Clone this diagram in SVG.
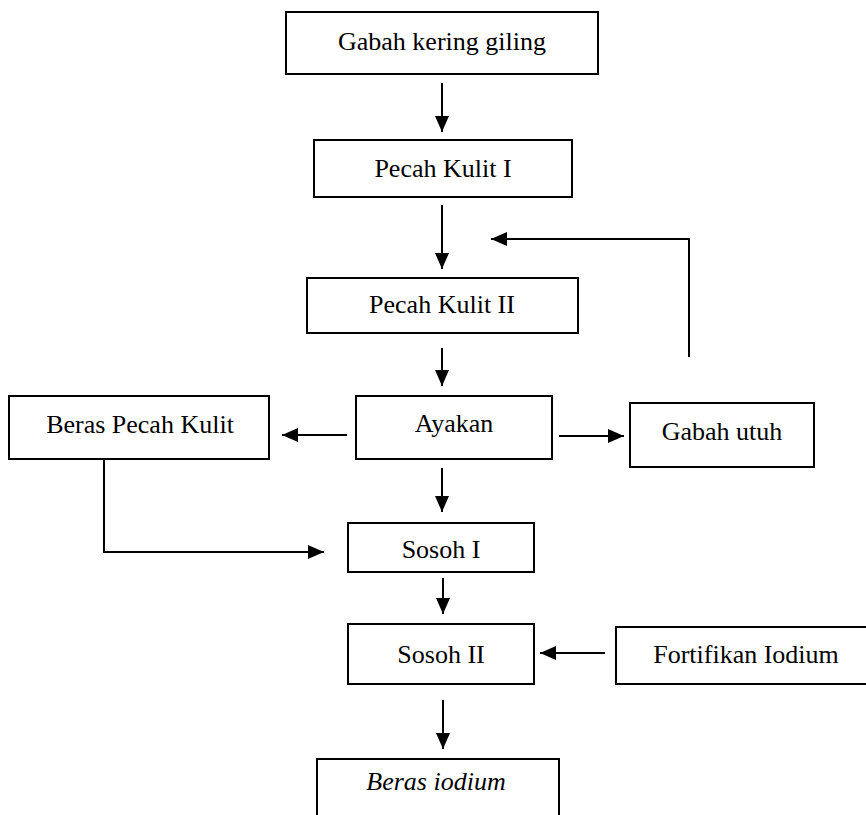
<svg xmlns="http://www.w3.org/2000/svg" width="866" height="815" viewBox="0 0 866 815">
<style>
.box{fill:#fff;stroke:#000;stroke-width:2}
.t{font-family:"Liberation Serif","Times New Roman",serif;font-size:26px;fill:#000;text-anchor:middle}
.it{font-style:italic}
.c{fill:none;stroke:#000;stroke-width:2}
</style>
<defs>
<marker id="ah" markerUnits="userSpaceOnUse" markerWidth="16" markerHeight="14" refX="16" refY="7" orient="auto">
<polygon points="0,0 16,7 0,14" fill="#000"/>
</marker>
</defs>
<rect width="866" height="815" fill="#fff"/>
<g id="connectors">
<line class="c" x1="442" y1="83" x2="442" y2="132" marker-end="url(#ah)"/>
<line class="c" x1="442" y1="205" x2="442" y2="269" marker-end="url(#ah)"/>
<line class="c" x1="442" y1="348" x2="442" y2="386" marker-end="url(#ah)"/>
<line class="c" x1="559" y1="436" x2="624" y2="436" marker-end="url(#ah)"/>
<line class="c" x1="347" y1="435" x2="282" y2="435" marker-end="url(#ah)"/>
<line class="c" x1="442" y1="468" x2="442" y2="512" marker-end="url(#ah)"/>
<polyline class="c" points="104,459 104,552 324,552" marker-end="url(#ah)"/>
<polyline class="c" points="689,357 689,239 491,239" marker-end="url(#ah)"/>
<line class="c" x1="443" y1="578" x2="443" y2="614" marker-end="url(#ah)"/>
<line class="c" x1="605" y1="653" x2="540" y2="653" marker-end="url(#ah)"/>
<line class="c" x1="443" y1="700" x2="443" y2="749" marker-end="url(#ah)"/>
</g>
<g id="gabah-kering-giling"><rect class="box" x="286" y="12" width="312" height="62"/><text class="t" x="442" y="50">Gabah kering giling</text></g>
<g id="pecah-kulit-1"><rect class="box" x="314" y="140" width="258" height="57"/><text class="t" x="443" y="177">Pecah Kulit I</text></g>
<g id="pecah-kulit-2"><rect class="box" x="307" y="278" width="271" height="55"/><text class="t" x="442" y="313">Pecah Kulit II</text></g>
<g id="ayakan"><rect class="box" x="356" y="396" width="196" height="63"/><text class="t" x="454" y="432">Ayakan</text></g>
<g id="beras-pecah-kulit"><rect class="box" x="9" y="396" width="260" height="63"/><text class="t" x="140" y="433">Beras Pecah Kulit</text></g>
<g id="gabah-utuh"><rect class="box" x="630" y="403" width="184" height="64"/><text class="t" x="722" y="440">Gabah utuh</text></g>
<g id="sosoh-1"><rect class="box" x="348" y="523" width="186" height="49"/><text class="t" x="441" y="558">Sosoh I</text></g>
<g id="sosoh-2"><rect class="box" x="348" y="624" width="186" height="60"/><text class="t" x="441" y="663">Sosoh II</text></g>
<g id="fortifikan-iodium"><rect class="box" x="616" y="627" width="262" height="57"/><text class="t" x="746" y="663">Fortifikan Iodium</text></g>
<g id="beras-iodium"><rect class="box" x="317" y="759" width="242" height="70"/><text class="t it" x="436" y="790">Beras iodium</text></g>
</svg>
